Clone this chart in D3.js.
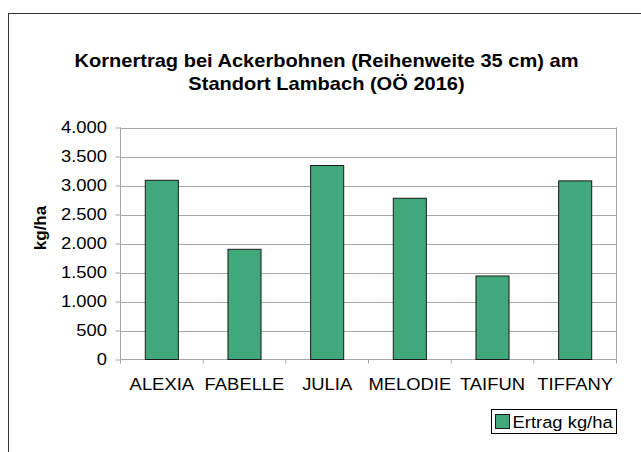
<!DOCTYPE html>
<html>
<head>
<meta charset="utf-8">
<script src="https://cdn.jsdelivr.net/npm/d3@7"></script>
<style>
  body { margin: 0; background: #fff; }
  svg text { font-family: Arial, "Liberation Sans", sans-serif; fill: #000; }
  .title { font-size: 18px; font-weight: bold; }
  .tick-label, .cat-label, .legend-label { font-size: 16.5px; }
  .axis-title { font-size: 17px; font-weight: bold; }
</style>
</head>
<body>
<svg id="chart"></svg>
<script>
const categories = ['ALEXIA', 'FABELLE', 'JULIA', 'MELODIE', 'TAIFUN', 'TIFFANY'];
const ertrag = [3090, 1900, 3345, 2780, 1440, 3080];
const yTicks = [0, 500, 1000, 1500, 2000, 2500, 3000, 3500, 4000];
const titleLines = ['Kornertrag bei Ackerbohnen (Reihenweite 35 cm) am', 'Standort Lambach (OÖ 2016)'];
const yLabel = 'kg/ha';
const seriesName = 'Ertrag kg/ha';

class BarChartVis {
    constructor(_config) {
        this.config = {
            parentElement: _config.parentElement,
            containerWidth: _config.containerWidth || 641,
            containerHeight: _config.containerHeight || 452,
            plot: _config.plot || {left: 120.5, right: 616.5, top: 127.5, bottom: 359.5},
        };
        this.barColor = '#40a87a';
        this.gridColor = '#a6a6a6';
        // text in the picture looks a bit wider than plain Arial
        this.stretch = 1.115;
        this.initVis();
    }

    initVis() {
        let vis = this;
        const p = vis.config.plot;
        vis.svg = d3.select(vis.config.parentElement)
            .attr('width', vis.config.containerWidth)
            .attr('height', vis.config.containerHeight);

        // outer frame (runs off to the right and bottom)
        vis.svg.append('rect')
            .attr('x', 8.5).attr('y', 13.5)
            .attr('width', 700).attr('height', 500)
            .attr('fill', 'none').attr('stroke', '#333').attr('stroke-width', 1);

        vis.xScale = d3.scaleBand().domain(categories).range([p.left, p.right]).paddingInner(0.6).paddingOuter(0.3);
        vis.yScale = d3.scaleLinear().domain([0, 4000]).range([p.bottom, p.top]);

        const locale = d3.formatLocale({decimal: ',', thousands: '.', grouping: [3], currency: ['', '']});
        vis.fmt = locale.format(',.0f');

        vis.chart = vis.svg.append('g');
    }

    stretchText(sel, x, y) {
        return sel.attr('x', 0).attr('y', 0)
            .attr('transform', `translate(${x},${y}) scale(${this.stretch},1)`);
    }

    renderVis() {
        let vis = this;
        const p = vis.config.plot;

        // gridlines
        vis.chart.selectAll('.grid')
            .data(yTicks.filter(d => d > 0))
            .join('line')
            .attr('class', 'grid')
            .attr('x1', p.left).attr('x2', p.right)
            .attr('y1', d => Math.round(vis.yScale(d)) + 0.5)
            .attr('y2', d => Math.round(vis.yScale(d)) + 0.5)
            .attr('stroke', vis.gridColor);

        // right edge of plot
        vis.chart.append('line')
            .attr('x1', p.right).attr('x2', p.right)
            .attr('y1', p.top).attr('y2', p.bottom)
            .attr('stroke', vis.gridColor);

        // y axis
        const yAxis = d3.axisLeft(vis.yScale).tickValues(yTicks).tickSize(5).tickSizeOuter(0).tickFormat(vis.fmt);
        const yAxisG = vis.chart.append('g')
            .attr('transform', `translate(${p.left},0)`)
            .call(yAxis);
        yAxisG.select('.domain').attr('stroke', vis.gridColor).attr('d', `M0,${p.top}V${p.bottom + 4}`);
        yAxisG.selectAll('.tick line').attr('stroke', vis.gridColor);
        yAxisG.selectAll('.tick text')
            .attr('class', 'tick-label')
            .attr('text-anchor', 'end')
            .attr('dy', '0.33em')
            .attr('x', 0)
            .attr('transform', `translate(-13.5,0) scale(${vis.stretch},1)`);
        yAxisG.attr('font-size', null).attr('font-family', null);

        // x axis baseline and ticks between categories
        vis.chart.append('line')
            .attr('x1', p.left).attr('x2', p.right)
            .attr('y1', p.bottom).attr('y2', p.bottom)
            .attr('stroke', vis.gridColor);
        const gap = (vis.xScale.step() - vis.xScale.bandwidth()) / 2;
        const bounds = categories.map(c => vis.xScale(c) - gap).concat([p.right]);
        vis.chart.selectAll('.x-tick')
            .data(bounds)
            .join('line')
            .attr('class', 'x-tick')
            .attr('x1', d => d).attr('x2', d => d)
            .attr('y1', p.bottom).attr('y2', p.bottom + 4)
            .attr('stroke', vis.gridColor);

        // bars
        vis.chart.selectAll('.bar')
            .data(categories.map((c, i) => ({cat: c, value: ertrag[i]})))
            .join('rect')
            .attr('class', 'bar')
            .attr('x', d => vis.xScale(d.cat))
            .attr('y', d => vis.yScale(d.value))
            .attr('width', vis.xScale.bandwidth())
            .attr('height', d => vis.yScale(0) - vis.yScale(d.value))
            .attr('fill', vis.barColor)
            .attr('stroke', '#1a1a1a')
            .attr('stroke-width', 1);

        // category labels
        vis.chart.selectAll('.cat-label')
            .data(categories)
            .join('text')
            .attr('class', 'cat-label')
            .attr('text-anchor', 'middle')
            .text(d => d)
            .each(function (d) {
                vis.stretchText(d3.select(this), vis.xScale(d) + vis.xScale.bandwidth() / 2, 390);
            });

        // title
        vis.svg.selectAll('.title')
            .data(titleLines)
            .join('text')
            .attr('class', 'title')
            .attr('text-anchor', 'middle')
            .text(d => d)
            .each(function (d, i) {
                vis.stretchText(d3.select(this), 326.5, 66.5 + i * 23.5);
            });

        // y axis title
        vis.svg.append('text')
            .attr('class', 'axis-title')
            .attr('text-anchor', 'middle')
            .attr('transform', 'translate(46,228) rotate(-90)')
            .text(yLabel);

        // legend
        const legend = vis.svg.append('g').attr('class', 'legend');
        legend.append('rect')
            .attr('x', 491.5).attr('y', 409.5)
            .attr('width', 125).attr('height', 24)
            .attr('fill', '#fff').attr('stroke', '#000');
        legend.append('rect')
            .attr('x', 495.5).attr('y', 414.5)
            .attr('width', 14).attr('height', 14)
            .attr('fill', vis.barColor).attr('stroke', '#1a1a1a');
        vis.stretchText(legend.append('text').attr('class', 'legend-label').text(seriesName), 512.5, 427.5);
    }
}

const chart = new BarChartVis({parentElement: '#chart'});
chart.renderVis();
</script>
</body>
</html>
